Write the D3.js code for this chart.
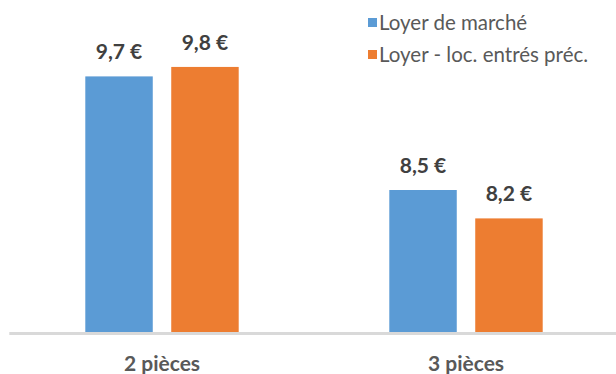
<!DOCTYPE html>
<html>
<head>
<meta charset="utf-8">
<script src="https://cdn.jsdelivr.net/npm/d3@7/dist/d3.min.js"></script>
<style>
  html, body { margin: 0; padding: 0; background: #fff; }
  svg { display: block; }
</style>
</head>
<body>
<script>
// Loyers au m² selon la taille du logement
const categories = ["2 pièces", "3 pièces"];
const seriesNames = ["Loyer de marché", "Loyer - loc. entrés préc."];
const marche = [9.7, 8.5];
const entres = [9.8, 8.2];
const colors = ["#5B9BD5", "#ED7D31"];

const W = 616, H = 374;
const svg = d3.select("body").append("svg").attr("width", W).attr("height", H);

const fmt = v => d3.format(".1f")(v).replace(".", ",") + " €";

const x0 = d3.scaleBand().domain(categories).range([10, 618])
  .paddingInner(0.4954).paddingOuter(0.2477);
const x1 = d3.scaleBand().domain(d3.range(seriesNames.length))
  .range([0, x0.bandwidth()]).paddingInner(0.215);
const y = d3.scaleLinear().domain([7, 10]).range([332, 48]);

const rows = categories.map((c, i) => ({ cat: c, values: [marche[i], entres[i]] }));

// Bars
const groups = svg.selectAll("g.grp").data(rows).join("g")
  .attr("class", "grp")
  .attr("transform", d => `translate(${x0(d.cat)},0)`);

groups.selectAll("rect").data(d => d.values.map((v, s) => ({ v, s }))).join("rect")
  .attr("x", d => x1(d.s))
  .attr("width", x1.bandwidth())
  .attr("y", d => y(d.v))
  .attr("height", d => y(7) - y(d.v))
  .attr("fill", d => colors[d.s]);

// Value labels
groups.selectAll("text.val").data(d => d.values.map((v, s) => ({ v, s }))).join("text")
  .attr("class", "val")
  .attr("x", d => x1(d.s) + x1.bandwidth() / 2)
  .attr("y", d => y(d.v) - 17)
  .attr("text-anchor", "middle")
  .attr("font-family", "Lato, 'Open Sans', sans-serif")
  .attr("font-weight", 700)
  .attr("font-size", 21)
  .attr("fill", "#404040")
  .text(d => fmt(d.v));

// Category axis
const xAxis = svg.append("g").attr("transform", "translate(0,333.5)")
  .call(d3.axisBottom(x0).tickSize(0).tickPadding(0));
xAxis.select(".domain").remove();
xAxis.append("line")
  .attr("x1", 9.3).attr("x2", W).attr("y1", 0).attr("y2", 0)
  .attr("stroke", "#D9D9D9").attr("stroke-width", 3);
xAxis.selectAll(".tick text")
  .attr("dy", null)
  .attr("y", 37.5)
  .attr("font-family", "Lato, 'Open Sans', sans-serif")
  .attr("font-weight", 700)
  .attr("font-size", 21)
  .attr("fill", "#595959");

// Legend
const legend = svg.append("g").attr("transform", "translate(368,18)");
const li = legend.selectAll("g").data(seriesNames).join("g")
  .attr("transform", (d, i) => `translate(0,${i * 32})`);
li.append("rect").attr("width", 9).attr("height", 9)
  .attr("fill", (d, i) => colors[i]);
li.append("text")
  .attr("x", 11).attr("y", 11.5)
  .attr("font-family", "Lato, 'Open Sans', sans-serif")
  .attr("font-size", 20.5)
  .attr("fill", "#595959")
  .text(d => d);
</script>
</body>
</html>
